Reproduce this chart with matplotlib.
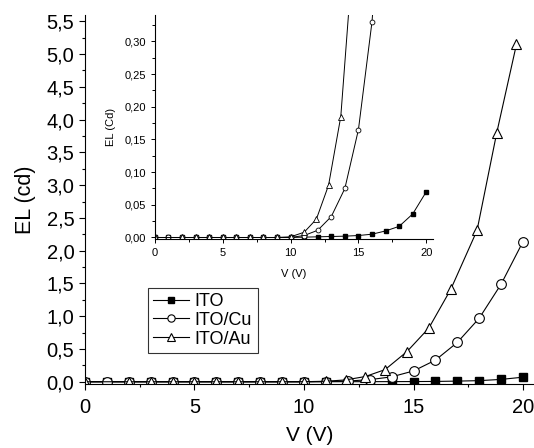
import matplotlib
matplotlib.use("Agg")
import matplotlib.pyplot as plt
from matplotlib.ticker import MultipleLocator

plt.rcParams['font.family'] = ['Liberation Sans', 'DejaVu Sans']

# ITO (squares), integer voltages
v_ito = [0, 1, 2, 3, 4, 5, 6, 7, 8, 9, 10, 11, 12, 13, 14, 15, 16, 17, 18, 19, 20]
el_ito = [0, 0, 0, 0, 0, 0, 0, 0, 0, 0, 0, 0.0005, 0.001, 0.0015, 0.002,
          0.003, 0.005, 0.010, 0.017, 0.036, 0.070]

# ITO/Cu (circles)
v_cu = [0, 1, 2, 3, 4, 5, 6, 7, 8, 9, 10, 11, 12, 13, 14, 15, 16, 17, 18, 19, 20]
el_cu = [0, 0, 0, 0, 0, 0, 0, 0, 0, 0, 0, 0.003, 0.011, 0.032, 0.075,
         0.165, 0.33, 0.60, 0.97, 1.49, 2.14]

# ITO/Au (triangles)
v_au = [0, 2, 3, 4, 5, 6, 7, 8, 9, 10, 11, 11.9, 12.8, 13.7, 14.7, 15.7,
        16.7, 17.9, 18.8, 19.7]
el_au = [0, 0, 0, 0, 0, 0, 0, 0, 0, 0.001, 0.008, 0.028, 0.080, 0.185,
         0.46, 0.82, 1.41, 2.31, 3.80, 5.15]

y_ticks = [0.0, 0.5, 1.0, 1.5, 2.0, 2.5, 3.0, 3.5, 4.0, 4.5, 5.0, 5.5]
y_labels = ['0,0', '0,5', '1,0', '1,5', '2,0', '2,5', '3,0', '3,5', '4,0',
            '4,5', '5,0', '5,5']
x_ticks = [0, 5, 10, 15, 20]
inset_y_ticks = [0.0, 0.05, 0.10, 0.15, 0.20, 0.25, 0.30]
inset_y_labels = ['0,00', '0,05', '0,10', '0,15', '0,20', '0,25', '0,30']

fig = plt.figure(figsize=(5.34, 4.48), dpi=100)
ax = fig.add_axes([0.159, 0.142, 0.841, 0.825])

ax.plot(v_ito, el_ito, '-s', color='k', lw=0.8, ms=5.5, mfc='k', label='ITO')
ax.plot(v_cu, el_cu, '-o', color='k', lw=0.8, ms=7, mfc='white', mew=0.8,
        label='ITO/Cu')
ax.plot(v_au, el_au, '-^', color='k', lw=0.8, ms=7.5, mfc='white', mew=0.8,
        label='ITO/Au')

ax.set_xlim(0, 20.5)
ax.set_ylim(-0.04, 5.6)
ax.set_xticks(x_ticks)
ax.set_yticks(y_ticks)
ax.set_yticklabels(y_labels)
ax.xaxis.set_minor_locator(MultipleLocator(2.5))
ax.yaxis.set_minor_locator(MultipleLocator(0.25))
ax.tick_params(which='both', direction='out', labelsize=14.5)
ax.tick_params(which='major', length=4, width=0.8)
ax.tick_params(which='minor', length=2.5, width=0.8)
ax.tick_params(axis='x', pad=6)
for s in ['top', 'right']:
    ax.spines[s].set_visible(False)
ax.set_xlabel('V (V)', fontsize=15, labelpad=6)
ax.set_ylabel('EL (cd)', fontsize=15.5, labelpad=8)

leg = ax.legend(loc='lower left', bbox_to_anchor=(0.14, 0.085), fontsize=13,
                frameon=True, fancybox=False, edgecolor='k', handlelength=2.0,
                handletextpad=0.3, borderpad=0.3, labelspacing=0.1,
                borderaxespad=0, markerscale=0.75)
leg.get_frame().set_linewidth(0.8)

# inset
ins = fig.add_axes([0.290, 0.467, 0.521, 0.499])
ins.plot(v_ito, el_ito, '-s', color='k', lw=0.7, ms=3, mfc='k')
ins.plot(v_cu, el_cu, '-o', color='k', lw=0.7, ms=3.5, mfc='white', mew=0.6)
ins.plot(v_au, el_au, '-^', color='k', lw=0.7, ms=4, mfc='white', mew=0.6)
ins.set_xlim(0, 20.5)
ins.set_ylim(-0.002, 0.34)
ins.set_xticks(x_ticks)
ins.set_yticks(inset_y_ticks)
ins.set_yticklabels(inset_y_labels)
ins.xaxis.set_minor_locator(MultipleLocator(2.5))
ins.yaxis.set_minor_locator(MultipleLocator(0.025))
ins.tick_params(which='both', direction='out', labelsize=8)
ins.tick_params(which='major', length=3, width=0.7)
ins.tick_params(which='minor', length=2, width=0.7)
for s in ['top', 'right']:
    ins.spines[s].set_visible(False)
ins.set_facecolor('none')
ins.set_xlabel('V (V)', fontsize=8, labelpad=8)
ins.set_ylabel('EL (Cd)', fontsize=8, labelpad=6)

fig.savefig('out.png', dpi=100)
